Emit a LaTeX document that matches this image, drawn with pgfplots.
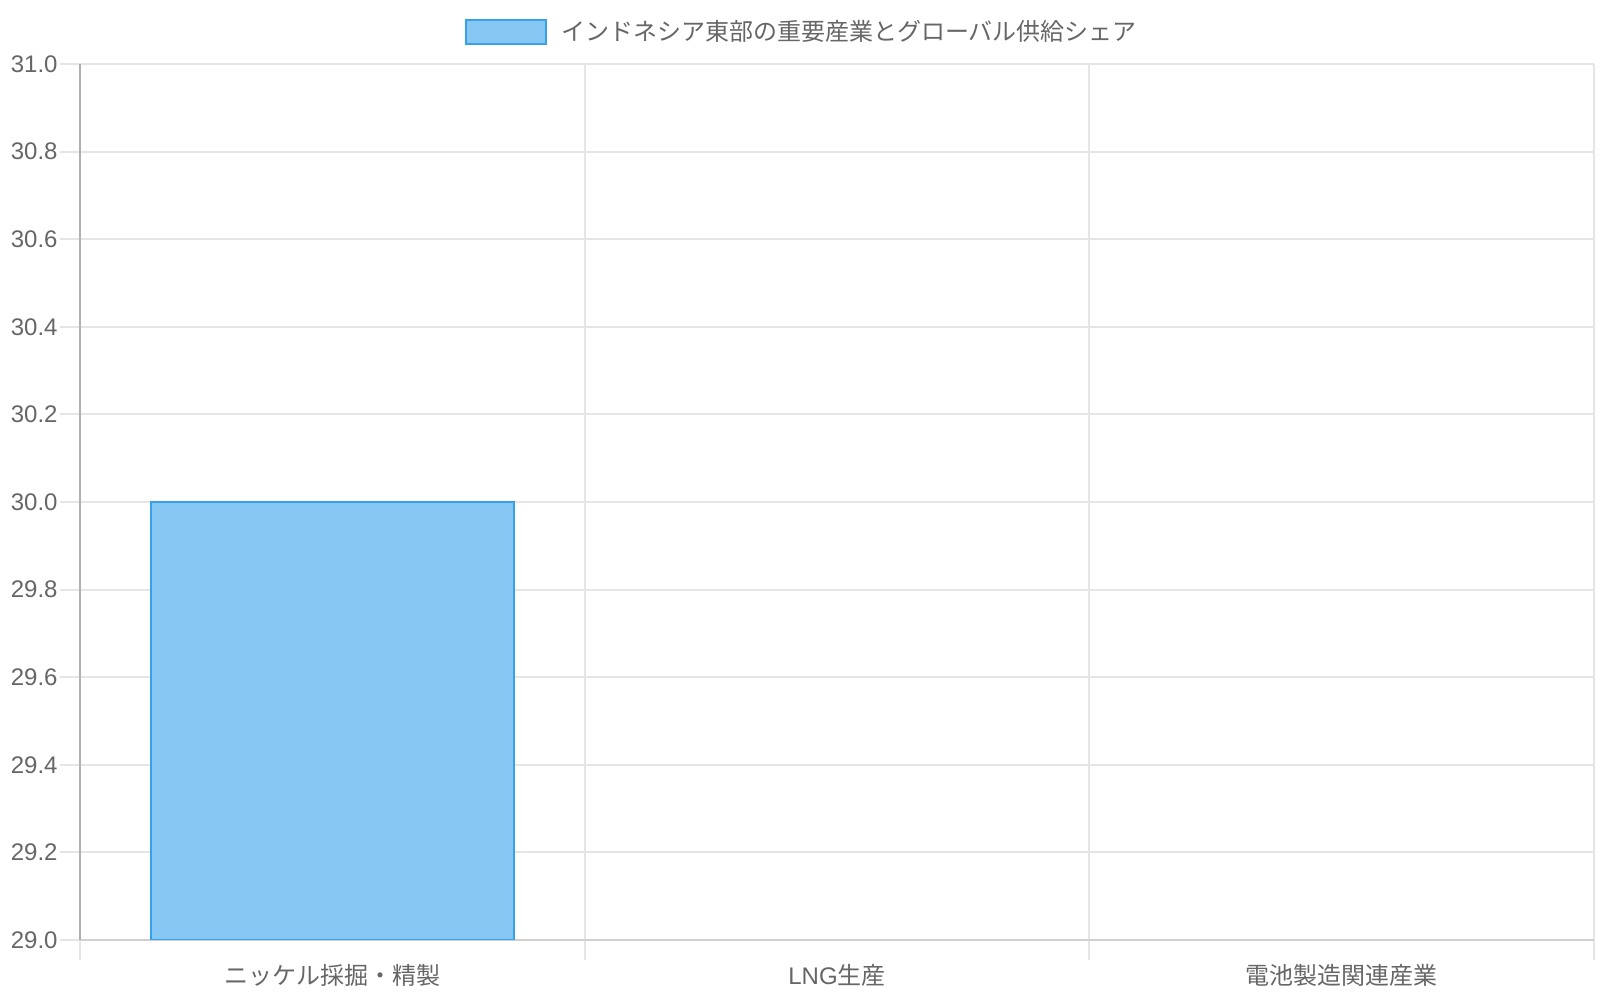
\documentclass[border=0pt]{standalone}
\usepackage{pgfplots}
\pgfplotsset{compat=1.18}
\usepackage{fontspec}
\setmainfont{Liberation Sans}
\newfontfamily\jp{Noto Sans CJK JP}
\definecolor{txt}{HTML}{666666}
\definecolor{gridc}{HTML}{E5E5E5}
\definecolor{barfill}{HTML}{86C7F3}
\definecolor{barline}{HTML}{36A2EB}
\definecolor{yaxc}{HTML}{B0B0B0}
\definecolor{xaxc}{HTML}{D0D0D0}
\begin{document}
\begin{tikzpicture}
\useasboundingbox (0,0) rectangle (800pt,500pt);
\begin{axis}[
  at={(40pt,30pt)}, anchor=south west,
  width=757pt, height=438pt, scale only axis,
  xmin=-0.5, xmax=2.5, ymin=29, ymax=31,
  axis x line*=bottom, axis y line*=left,
  x axis line style={-, draw=xaxc, line width=1pt},
  y axis line style={-, draw=yaxc, line width=1pt},
  xtick={-0.5,0.5,1.5,2.5}, xticklabels={},
  ytick={29,29.2,...,31.01},
  tick align=outside, major tick length=10pt,
  tick style={draw=gridc, line width=1pt},
  xmajorgrids, ymajorgrids,
  major grid style={draw=gridc, line width=1pt},
  extra x ticks={0,1,2},
  extra x tick labels={{\jp ニッケル採掘・精製},{LNG\jp 生産},{\jp 電池製造関連産業}},
  extra x tick style={grid=none, xtick style={draw=none},
     xticklabel style={anchor=north, inner sep=0pt, yshift=-2pt, font=\fontsize{12pt}{14pt}\selectfont, text=txt}},
  yticklabel style={anchor=east, inner sep=0pt, xshift=-1pt, font=\fontsize{12pt}{14pt}\selectfont, text=txt,
     /pgf/number format/fixed, /pgf/number format/fixed zerofill, /pgf/number format/precision=1},
  /pgf/number format/assume math mode=true,
  legend style={at={(0.4776,1)}, anchor=center, yshift=16pt, draw=none, fill=none,
     inner sep=0pt, font=\fontsize{12pt}{14pt}\selectfont, text=txt,
     /tikz/every odd column/.append style={column sep=5pt}},
  legend image code/.code={\draw[fill=barfill, draw=barline, line width=1pt] (0pt,-6pt) rectangle (40pt,6pt);},
]
\addplot[ybar, bar width=0.72, fill=barfill, draw=barline, line width=1pt] coordinates {(0,30)};
\addlegendentry{{\jp インドネシア東部の重要産業とグローバル供給シェア}}
\end{axis}
\end{tikzpicture}
\end{document}
